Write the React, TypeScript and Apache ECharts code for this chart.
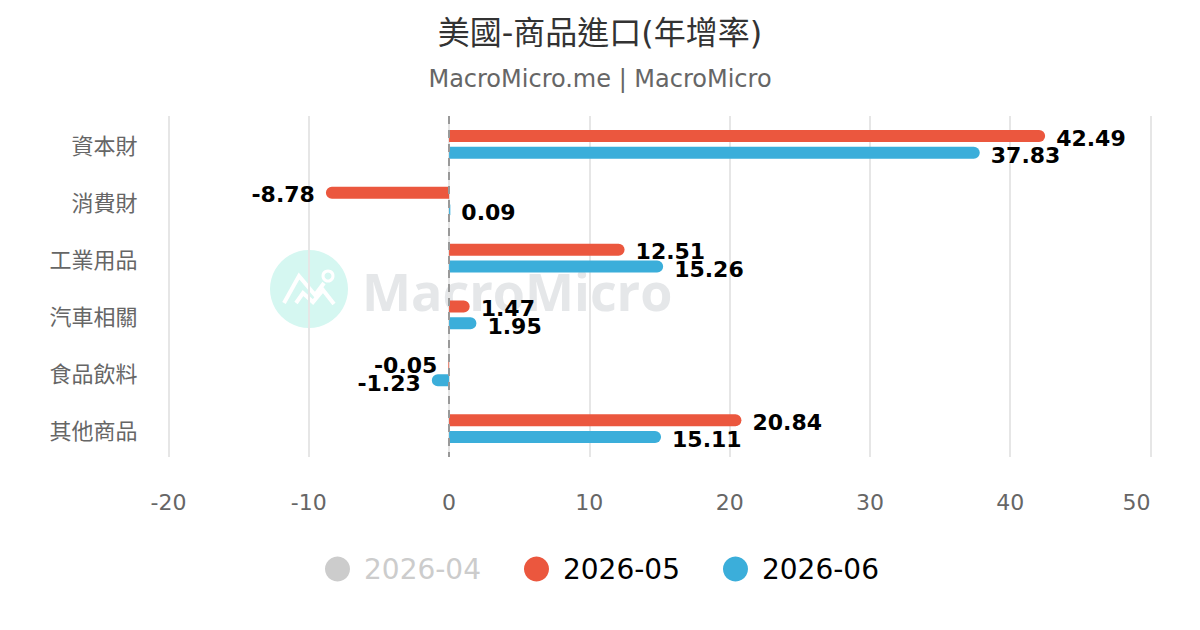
import React, { useEffect, useRef } from "react";
import * as echarts from "echarts";

const categories = ["資本財", "消費財", "工業用品", "汽車相關", "食品飲料", "其他商品"];
const seriesNames = ["2026-04", "2026-05", "2026-06"];
const values04: number[] = [];
const values05 = [42.49, -8.78, 12.51, 1.47, -0.05, 20.84];
const values06 = [37.83, 0.09, 15.26, 1.95, -1.23, 15.11];
const RED = "#EB573E";
const BLUE = "#3BAEDA";
const FONT = '"DejaVu Sans", "Noto Sans CJK TC", sans-serif';

const toBars = (vals: number[]) =>
  vals.map((v) => ({
    value: v,
    itemStyle: { borderRadius: v >= 0 ? [0, 6, 6, 0] : [6, 0, 0, 6] },
    label: { position: v >= 0 ? ("right" as const) : ("left" as const) },
  }));

const barLabel = (dy: number) => ({
  show: true,
  distance: 11,
  offset: [0, dy],
  color: "#000",
  fontFamily: FONT,
  fontSize: 22,
  fontWeight: "bold" as const,
});

export default function App() {
  const ref = useRef<HTMLDivElement>(null);
  useEffect(() => {
    document.body.style.margin = "0";
    const chart = echarts.init(ref.current!, undefined, { renderer: "svg", width: 1200, height: 630 });
    chart.setOption({
      animation: false,
      backgroundColor: "#fff",
      textStyle: { fontFamily: FONT },
      title: {
        text: "美國-商品進口(年增率)",
        subtext: "MacroMicro.me | MacroMicro",
        left: "center",
        top: 12,
        itemGap: 18,
        textStyle: { color: "#333", fontSize: 32, fontWeight: "normal", fontFamily: FONT },
        subtextStyle: { color: "#666", fontSize: 24, fontFamily: FONT },
      },
      grid: { left: 168.5, right: 49.5, top: 116, bottom: 173 },
      xAxis: {
        type: "value",
        min: -20,
        max: 50,
        interval: 10,
        axisLine: { show: false },
        axisTick: { show: false },
        splitLine: { lineStyle: { color: "#e6e6e6", width: 2 } },
        axisLabel: { color: "#666", fontSize: 22, margin: 34, fontFamily: FONT, alignMaxLabel: "right" },
      },
      yAxis: {
        type: "category",
        inverse: true,
        data: categories,
        axisLine: { show: false },
        axisTick: { show: false },
        axisLabel: { color: "#666", fontSize: 22, margin: 31, fontFamily: FONT, verticalAlign: "top", lineHeight: 5 },
      },
      legend: {
        data: seriesNames,
        selected: { "2026-04": false, "2026-05": true, "2026-06": true },
        left: 320,
        top: 550,
        icon: "circle",
        itemWidth: 25,
        itemHeight: 28,
        itemGap: 43,
        inactiveColor: "#ccc",
        textStyle: { color: "#000", fontSize: 28, fontFamily: FONT, padding: [0, 0, 0, 9] },
      },
      graphic: [
        { type: "circle", z: -1, shape: { cx: 309, cy: 289, r: 39 }, style: { fill: "#d5f7f1" } },
        {
          type: "polyline",
          z: -1,
          shape: { points: [[284, 303], [299, 276], [315, 295], [324, 283]] },
          style: { stroke: "#fff", lineWidth: 4, fill: "none" },
        },
        {
          type: "polyline",
          z: -1,
          shape: { points: [[296, 303], [303, 293], [313, 302], [323, 290], [334, 304]] },
          style: { stroke: "#fff", lineWidth: 4, fill: "none" },
        },
        { type: "circle", z: -1, shape: { cx: 328, cy: 276, r: 5 }, style: { stroke: "#fff", lineWidth: 3, fill: "#d5f7f1" } },
        {
          type: "text",
          z: -1,
          x: 362,
          y: 290,
          style: {
            text: "MacroMicro",
            fill: "#e5e7e9",
            font: '700 52px "Open Sans", sans-serif',
            textVerticalAlign: "middle",
          },
        },
      ],
      series: [
        { name: seriesNames[0], type: "bar", data: values04, itemStyle: { color: "#ccc" } },
        {
          name: seriesNames[1],
          type: "bar",
          barWidth: 12,
          barGap: "40%",
          data: toBars(values05),
          itemStyle: { color: RED },
          label: barLabel(2),
          markLine: {
            silent: true,
            symbol: "none",
            label: { show: false },
            lineStyle: { color: "#999", type: [8, 6], width: 2 },
            data: [{ xAxis: 0 }],
          },
        },
        {
          name: seriesNames[2],
          type: "bar",
          barWidth: 12,
          barGap: "40%",
          data: toBars(values06),
          itemStyle: { color: BLUE },
          label: barLabel(3),
        },
      ],
    });
    return () => chart.dispose();
  }, []);
  return <div ref={ref} style={{ width: 1200, height: 630 }} />;
}
